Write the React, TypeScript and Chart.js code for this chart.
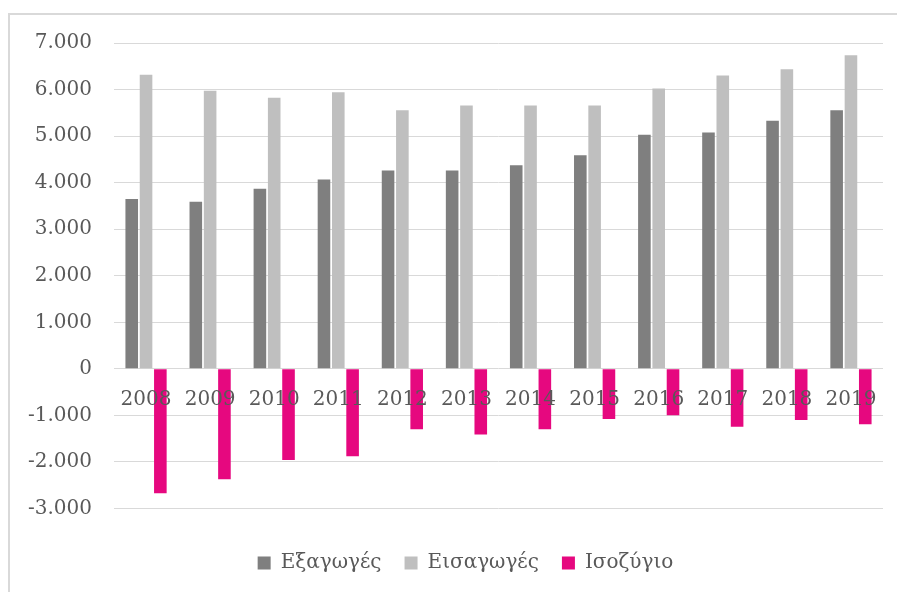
import React, { useEffect, useRef } from "react";
import { Chart, registerables } from "chart.js";

Chart.register(...registerables);

const years = ["2008", "2009", "2010", "2011", "2012", "2013", "2014", "2015", "2016", "2017", "2018", "2019"];
const exportsVals = [3650, 3590, 3870, 4065, 4260, 4260, 4375, 4590, 5030, 5080, 5330, 5555];
const importsVals = [6320, 5975, 5825, 5940, 5555, 5660, 5660, 5660, 6020, 6300, 6435, 6735];
const balanceVals = [-2670, -2370, -1960, -1875, -1295, -1410, -1295, -1075, -995, -1245, -1100, -1190];
const seriesNames = ["Εξαγωγές", "Εισαγωγές", "Ισοζύγιο"];

const FONT = "'DejaVu Serif', serif";
const TEXT = "#595959";

function fmt(v: number): string {
  const s = Math.abs(v).toString().replace(/\B(?=(\d{3})+(?!\d))/g, ".");
  return (v < 0 ? "-" : "") + s;
}

const legendShift = {
  id: "legendShift",
  afterLayout(chart: any) {
    const lg = chart.legend;
    if (lg) {
      lg.left += 14;
      lg.right += 14;
    }
  },
};

export default function App() {
  const ref = useRef<HTMLCanvasElement>(null);
  useEffect(() => {
    if (!ref.current) return;
    const chart = new Chart(ref.current, {
      type: "bar",
      data: {
        labels: years,
        datasets: [
          { label: seriesNames[0], data: exportsVals, backgroundColor: "#7f7f7f" },
          { label: seriesNames[1], data: importsVals, backgroundColor: "#bfbfbf" },
          { label: seriesNames[2], data: balanceVals, backgroundColor: "#e6087f" },
        ],
      },
      options: {
        responsive: false,
        animation: false,
        devicePixelRatio: 1,
        layout: { padding: { left: 10, right: 14, top: 28, bottom: 9 } },
        datasets: { bar: { categoryPercentage: 0.67, barPercentage: 0.88 } },
        scales: {
          x: {
            position: { y: 0 } as any,
            grid: { display: false },
            border: { display: false },
            ticks: { color: TEXT, font: { family: FONT, size: 20 }, padding: 11, z: 1, maxRotation: 0, autoSkip: false },
          },
          y: {
            min: -3000,
            max: 7000,
            afterFit: (s: any) => {
              s.width = 94;
              s.paddingTop = 12;
              s.paddingBottom = 12;
            },
            grid: { color: "#d9d9d9", lineWidth: 1, drawTicks: false },
            border: { display: false },
            ticks: { stepSize: 1000, color: TEXT, font: { family: FONT, size: 20 }, padding: 22, callback: (v: any) => fmt(Number(v)) },
          },
        },
        plugins: {
          tooltip: { enabled: false },
          legend: {
            position: "bottom",
            title: { display: true, text: "", padding: 0, font: { size: 1, lineHeight: 21.5 } },
            labels: { boxWidth: 13, boxHeight: 13, padding: 23, color: TEXT, font: { family: FONT, size: 20 } },
          },
        },
      },
      plugins: [legendShift],
    });
    return () => chart.destroy();
  }, []);
  return (
    <div>
      <div
        style={{
          position: "absolute",
          left: 8,
          top: 13,
          width: 889,
          height: 579,
          borderTop: "2px solid #d9d9d9",
          borderLeft: "2px solid #d9d9d9",
          boxSizing: "border-box",
          background: "#fff",
        }}
      />
      <canvas ref={ref} width={887} height={577} style={{ position: "absolute", left: 10, top: 15 }} />
    </div>
  );
}
